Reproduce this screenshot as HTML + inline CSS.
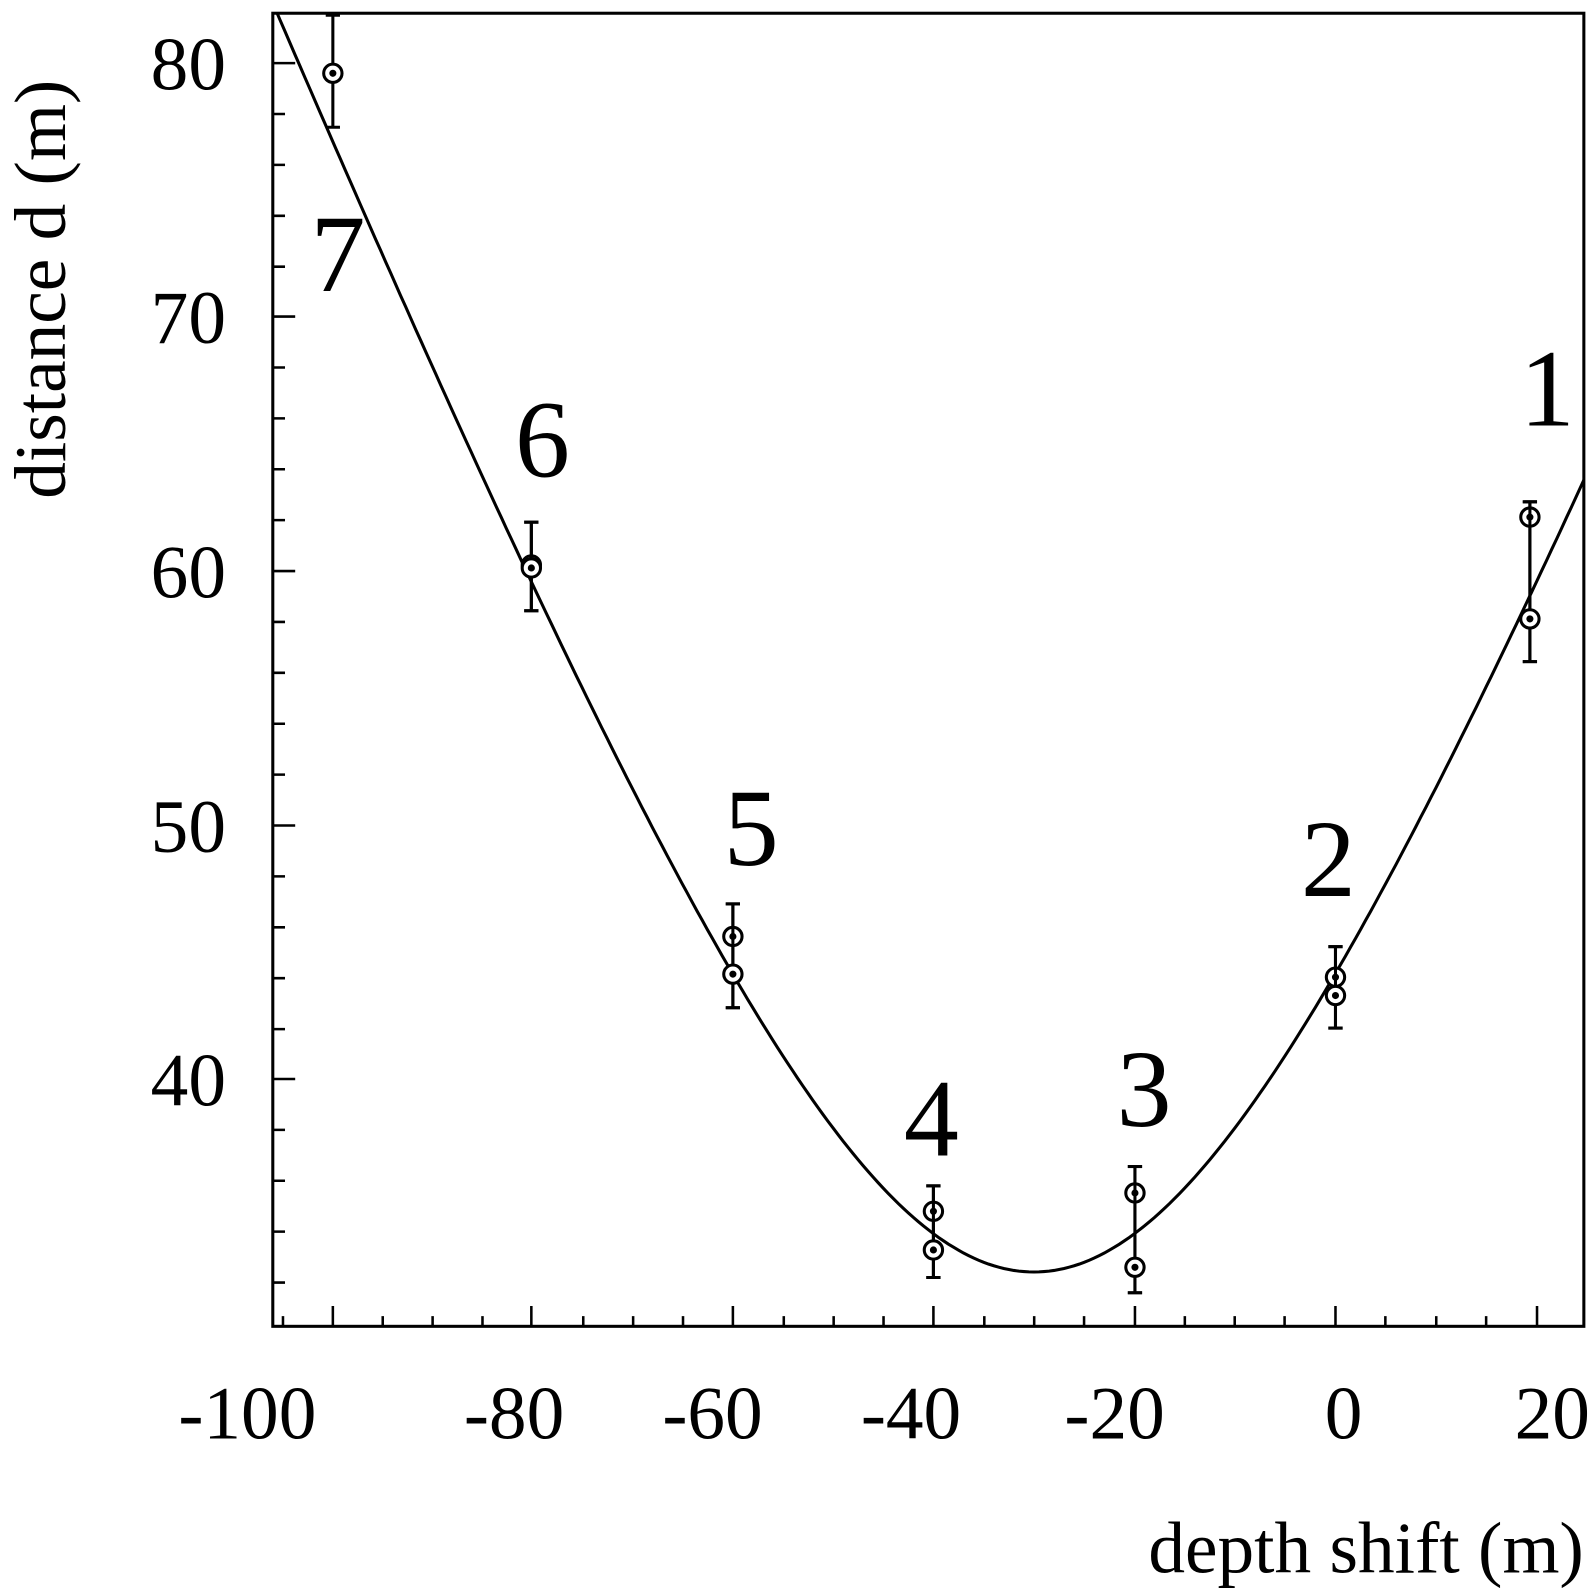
<!DOCTYPE html>
<html><head><meta charset="utf-8"><style>
html,body{margin:0;padding:0;background:#fff;}
svg{display:block;}
text{font-family:"Liberation Serif",serif;fill:#000;}
</style></head><body>
<svg width="1594" height="1588" viewBox="0 0 1594 1588" xmlns="http://www.w3.org/2000/svg">
<defs><clipPath id="box"><rect x="268" y="13" width="1288" height="1290"/></clipPath></defs>
<g transform="scale(1.0179)">
<g stroke="#000" fill="none">
<rect x="268" y="13" width="1288" height="1290" stroke-width="3"/>
<path stroke-width="2.5" d="
M268 62h22 M268 311h22 M268 561h22 M268 811h22 M268 1060h22
M268 112h12 M268 162h12 M268 212h12 M268 262h12
M268 361h12 M268 411h12 M268 461h12 M268 511h12
M268 611h12 M268 661h12 M268 711h12 M268 761h12
M268 861h12 M268 911h12 M268 961h12 M268 1011h12
M268 1110h12 M268 1160h12 M268 1210h12 M268 1260h12
M327 1303v-20 M522 1303v-20 M720 1303v-20 M917 1303v-20 M1115 1303v-20 M1312 1303v-20 M1510 1303v-20
M278 1303v-10 M376 1303v-10 M425 1303v-10 M474 1303v-10 M573 1303v-10 M622 1303v-10 M671 1303v-10
M770 1303v-10 M819 1303v-10 M868 1303v-10 M967 1303v-10 M1016 1303v-10 M1065 1303v-10
M1164 1303v-10 M1213 1303v-10 M1262 1303v-10 M1361 1303v-10 M1411 1303v-10 M1460 1303v-10"/>
<path id="curve" stroke-width="3" d="" clip-path="url(#box)"/>
<g id="pts" stroke-width="3" clip-path="url(#box)"></g>
</g>
<g font-size="74" text-anchor="end">
<text x="222" y="88">80</text><text x="222" y="337">70</text><text x="222" y="587">60</text>
<text x="222" y="837">50</text><text x="222" y="1086">40</text>
</g>
<g font-size="74" text-anchor="middle">
<text x="243" y="1413">-100</text><text x="505" y="1413">-80</text><text x="700" y="1413">-60</text>
<text x="895" y="1413">-40</text><text x="1095" y="1413">-20</text><text x="1320" y="1413">0</text><text x="1525" y="1413">20</text>
</g>
<text x="1556" y="1545" font-size="72" text-anchor="end">depth shift (m)</text>
<text transform="translate(64,490) rotate(-90)" font-size="72">distance  d (m)</text>
<g font-size="108" text-anchor="middle">
<text x="332" y="286">7</text><text x="533" y="468">6</text><text x="738" y="850">5</text>
<text x="915" y="1135">4</text><text x="1124" y="1106">3</text><text x="1305" y="880">2</text><text x="1520" y="418">1</text>
</g>
</g>
</svg>
<script>
var X=function(v){return 1312+v*9.875},Y=function(d){return 1060-(d-40)*24.95};
var p="";for(var x=-108;x<=25.5;x+=0.5){var d=Math.sqrt(32.4*32.4+(x+30)*(x+30));p+=(p?"L":"M")+X(x).toFixed(1)+" "+Y(d).toFixed(1);}
document.getElementById("curve").setAttribute("d",p);
var pts=[[327,72,15,125],[522,555,513,600],[522,558,513,600],[720,920,888,990],[720,957,888,990],[917,1190,1165,1255],[917,1228,1165,1255],[1115,1172,1146,1270],[1115,1245,1146,1270],[1312,960,930,1010],[1312,978,930,1010],[1503,508,493,650],[1503,608,493,650]];
var g=document.getElementById("pts"),s="";
pts.forEach(function(q){s+='<line x1="'+q[0]+'" y1="'+q[2]+'" x2="'+q[0]+'" y2="'+q[3]+'"/><line x1="'+(q[0]-7)+'" y1="'+q[2]+'" x2="'+(q[0]+7)+'" y2="'+q[2]+'"/><line x1="'+(q[0]-7)+'" y1="'+q[3]+'" x2="'+(q[0]+7)+'" y2="'+q[3]+'"/><circle cx="'+q[0]+'" cy="'+q[1]+'" r="9" fill="#fff"/><circle cx="'+q[0]+'" cy="'+q[1]+'" r="2" fill="#000"/>';});
g.innerHTML=s;
</script>
</body></html>
